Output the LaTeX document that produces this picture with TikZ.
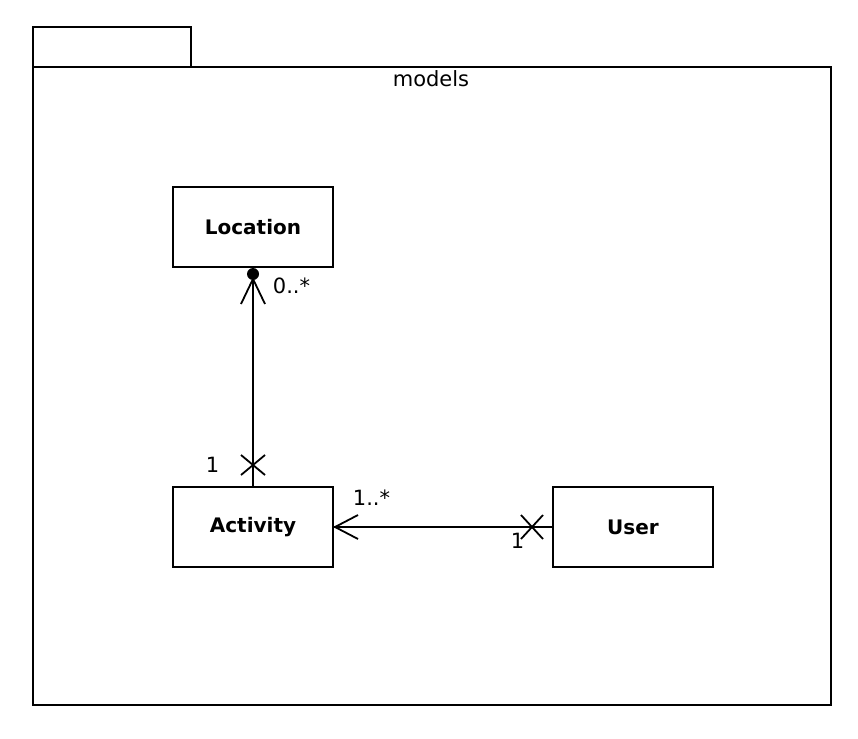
\documentclass[tikz,border=0pt]{standalone}
\usepackage{fontspec}
\setmainfont{DejaVu Sans}
\begin{document}
\begin{tikzpicture}[x=1pt,y=-1pt,line width=1.8pt,
  cls/.style={draw,minimum width=160pt,minimum height=80pt,inner sep=0pt,font=\fontsize{20}{23}\selectfont\bfseries},
  lbl/.style={font=\fontsize{21}{24}\selectfont,inner sep=0pt}]
\useasboundingbox (0,0) rectangle (858,738);
\draw (33,27) rectangle (191,67);
\draw (33,67) rectangle (831,705);
\node[lbl,anchor=base] (pkg) at (431,87) {models};
\node[cls] (loc) at (253,227) {Location};
\node[cls] (act) at (253,527) {Activity};
\node[cls] (usr) at (633,527) {User};
% Activity -> Location
\draw (act.north) -- (loc.south);
\fill (253,274) circle (6);
\coordinate (lt) at (253,279);
\draw (241,304) -- (lt) -- (265,304);
\draw (241,455) -- (265,475) (241,475) -- (265,455);
\node[lbl,anchor=base west] (m1) at (272,293) {0..*};
\node[lbl,anchor=base west] (m2) at (205,472) {1};
% User -> Activity
\draw (usr.west) -- (act.east);
\coordinate (at) at (335,527);
\draw (358,515) -- (at) -- (358,539);
\draw (521,515) -- (543,539) (521,539) -- (543,515);
\node[lbl,anchor=base west] (m3) at (352,505) {1..*};
\node[lbl,anchor=base west] (m4) at (510,548) {1};
\end{tikzpicture}
\end{document}
